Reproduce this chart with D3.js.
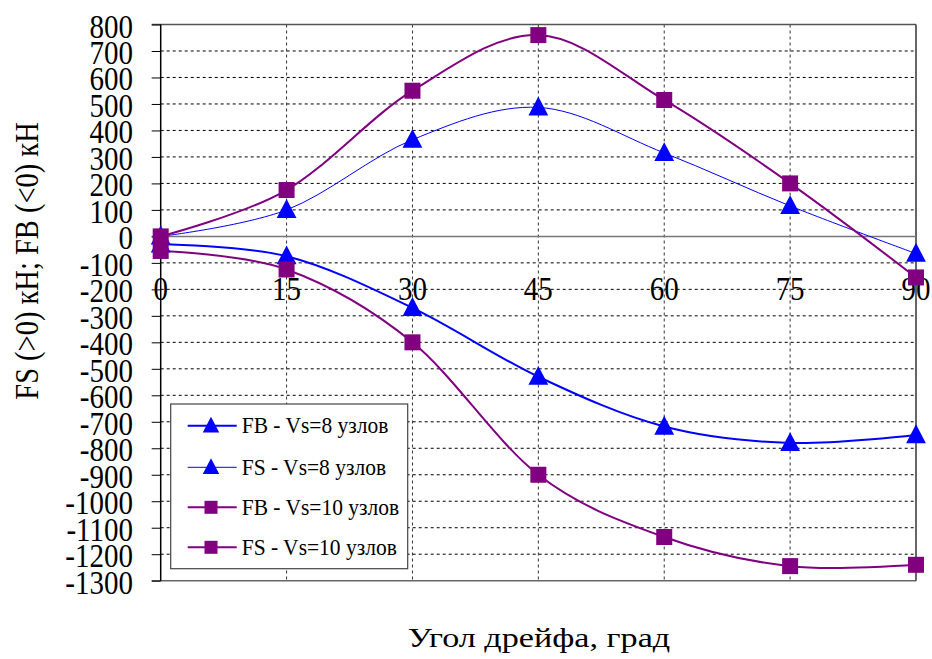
<!DOCTYPE html>
<html>
<head>
<meta charset="utf-8">
<script src="https://cdn.jsdelivr.net/npm/d3@7"></script>
<style>
  html, body { margin: 0; padding: 0; background: #fff; }
  svg { display: block; }
  text { font-family: "Times New Roman", "Liberation Serif", Tinos, "DejaVu Serif", serif; fill: #000; }
</style>
</head>
<body>
<svg id="chart" width="932" height="659"></svg>
<script>
const angles = [0, 15, 30, 45, 60, 75, 90];
const fb8  = [-30, -75, -270, -530, -718, -780, -750];
const fs8  = [0, 100, 365, 487, 315, 115, -65];
const fb10 = [-55, -125, -400, -900, -1135, -1245, -1240];
const fs10 = [0, 175, 550, 760, 515, 200, -155];
const yTicks = d3.range(-1300, 801, 100);
const xTicks = [0, 15, 30, 45, 60, 75, 90];
const seriesNames = ["FB - Vs=8 узлов", "FS - Vs=8 узлов", "FB - Vs=10 узлов", "FS - Vs=10 узлов"];
const xTitle = "Угол дрейфа, град";
const yTitle = "FS (>0) кН; FB (<0) кН";

const series = [
  { name: seriesNames[0], values: fb8,  color: "#0000FF", width: 2,   marker: "triangle" },
  { name: seriesNames[1], values: fs8,  color: "#0000FF", width: 1,   marker: "triangle" },
  { name: seriesNames[2], values: fb10, color: "#800080", width: 2,   marker: "square" },
  { name: seriesNames[3], values: fs10, color: "#800080", width: 2,   marker: "square" }
];

const SY = 1.17; // vertical stretch of tick-label glyphs
const svg = d3.select("#chart");
const pL = 160.7, pR = 916, pT = 24.5, pB = 580.7;
const x = d3.scaleLinear().domain([0, 90]).range([pL, pR]);
const y = d3.scaleLinear().domain([-1300, 800]).range([pB, pT]);

// horizontal grid
svg.append("g").selectAll("line").data(yTicks.filter(v => v !== 0 && v !== 800 && v !== -1300)).join("line")
  .attr("x1", pL).attr("x2", pR).attr("y1", d => y(d)).attr("y2", d => y(d))
  .attr("stroke", "#000").attr("stroke-width", 1).attr("stroke-dasharray", "3,3");
// vertical grid
svg.append("g").selectAll("line").data(xTicks.filter(v => v !== 0 && v !== 90)).join("line")
  .attr("x1", d => x(d)).attr("x2", d => x(d)).attr("y1", pT).attr("y2", pB)
  .attr("stroke", "#333").attr("stroke-width", 1).attr("stroke-dasharray", "3,3");

// frame
svg.append("line").attr("x1", pL - 9).attr("x2", pR).attr("y1", pT).attr("y2", pT)
  .attr("stroke", "#555").attr("stroke-width", 1.5);
svg.append("line").attr("x1", pL - 9).attr("x2", pR).attr("y1", pB).attr("y2", pB)
  .attr("stroke", "#666").attr("stroke-width", 1.5);
svg.append("line").attr("x1", pR).attr("x2", pR).attr("y1", pT).attr("y2", pB)
  .attr("stroke", "#333").attr("stroke-width", 1.5);
// zero line
svg.append("line").attr("x1", pL - 9).attr("x2", pR).attr("y1", y(0)).attr("y2", y(0))
  .attr("stroke", "#777").attr("stroke-width", 1.5);

// y axis
const yAxis = d3.axisLeft(y).tickValues(yTicks).tickSize(9).tickFormat("");
const ya = svg.append("g").attr("transform", `translate(${pL},0)`).call(yAxis);
ya.select(".domain").attr("stroke", "#000").attr("stroke-width", 1.5).attr("d", `M0,${pT}V${pB}`);
ya.selectAll(".tick line").attr("stroke", "#000").attr("stroke-width", 1);

// y tick labels
svg.append("g").selectAll("text").data(yTicks).join("text")
  .attr("text-anchor", "end")
  .attr("transform", d => `translate(133,${y(d) + 13}) scale(1,${SY})`)
  .style("font-size", "29px")
  .text(d => d);

// x tick labels
svg.append("g").selectAll("text").data(xTicks).join("text")
  .attr("text-anchor", "middle")
  .attr("transform", d => `translate(${x(d)},300) scale(1,${SY})`)
  .style("font-size", "29px")
  .text(d => d);

// lines & markers
const line = d3.line().x((d, i) => x(angles[i])).y(d => y(d)).curve(d3.curveCatmullRom.alpha(0));
const triPath = (s) => `M0,${-s * 0.6}L${s * 0.55},${s * 0.45}L${-s * 0.55},${s * 0.45}Z`;

series.forEach(s => {
  svg.append("path").datum(s.values).attr("d", line)
    .attr("fill", "none").attr("stroke", s.color).attr("stroke-width", s.width);
});
series.forEach(s => {
  const g = svg.append("g");
  s.values.forEach((v, i) => {
    if (s.marker === "square") {
      g.append("rect").attr("x", x(angles[i]) - 8).attr("y", y(v) - 8)
        .attr("width", 16).attr("height", 16).attr("fill", s.color);
    } else {
      g.append("path").attr("d", triPath(18))
        .attr("transform", `translate(${x(angles[i])},${y(v)})`).attr("fill", s.color);
    }
  });
});

// legend
const lg = svg.append("g");
lg.append("rect").attr("x", 170.7).attr("y", 404).attr("width", 237).attr("height", 164.7)
  .attr("fill", "#fff").attr("stroke", "#444").attr("stroke-width", 1.2);
const rowY = [425.7, 467.3, 507.3, 547.3];
series.forEach((s, i) => {
  const cy = rowY[i];
  lg.append("line").attr("x1", 187.7).attr("x2", 236.7).attr("y1", cy).attr("y2", cy)
    .attr("stroke", s.color).attr("stroke-width", s.width);
  if (s.marker === "square") {
    lg.append("rect").attr("x", 211 - 6.5).attr("y", cy - 6.5).attr("width", 13).attr("height", 13).attr("fill", s.color);
  } else {
    lg.append("path").attr("d", triPath(15)).attr("transform", `translate(211,${cy})`).attr("fill", s.color);
  }
  lg.append("text").attr("transform", `translate(241.7,${cy + 7.5}) scale(1,1.05)`)
    .style("font-size", "21.5px").text(s.name);
});

// axis titles
svg.append("text").attr("text-anchor", "middle")
  .attr("transform", `translate(539,647) scale(1.22,1)`)
  .style("font-size", "28px").text(xTitle);
svg.append("text").attr("text-anchor", "middle")
  .attr("transform", `translate(38,261) rotate(-90) scale(1,1.17)`)
  .style("font-size", "28.5px").text(yTitle);
</script>
</body>
</html>
